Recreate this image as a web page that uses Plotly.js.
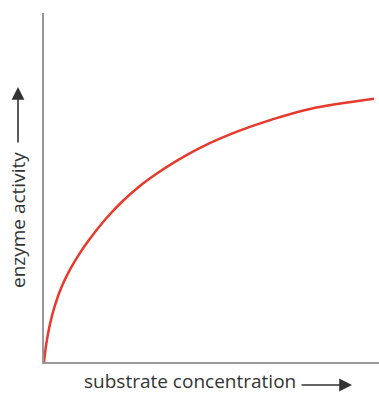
<!DOCTYPE html>
<html>
<head>
<meta charset="utf-8">
<script src="https://cdn.plot.ly/plotly-3.0.1.min.js"></script>
<style>html,body{margin:0;padding:0;background:#fff;}#chart{width:379px;height:395px;}</style>
</head>
<body>
<div id="chart"></div>
<script>
// Substrate concentration (arbitrary units)
const substrate = [0, 0.07, 0.17, 0.32, 0.52, 0.77, 1.07, 1.37, 1.88, 2.36, 2.87, 3.37, 3.97, 4.75, 5.76, 6.75, 7.94, 9.85];
// Enzyme activity (arbitrary units)
const activity  = [0, 0.53, 1.05, 1.60, 2.14, 2.64, 3.12, 3.53, 4.14, 4.62, 5.05, 5.40, 5.77, 6.18, 6.60, 6.93, 7.25, 7.54];
const xLabel = "substrate concentration";
const yLabel = "enzyme activity";

const W = 379, H = 395, L = 44, R = 0, T = 13, B = 33;
const pw = W - L - R, ph = H - T - B;
const px = v => (v - L) / pw;
const py = v => (H - B - v) / ph;

const trace = {
  x: substrate, y: activity, type: 'scatter', mode: 'lines',
  line: {color: '#e53a2c', width: 2.5, shape: 'spline', smoothing: 1},
  hoverinfo: 'skip'
};
const axisBase = {showgrid: false, zeroline: false, showticklabels: false, ticks: '',
  showline: true, linecolor: '#999999', linewidth: 2, fixedrange: true};
const font = {family: 'Open Sans, sans-serif', size: 19, color: '#333333'};
const layout = {
  width: W, height: H,
  margin: {l: L, r: R, t: T, b: B, pad: 0},
  paper_bgcolor: '#fff', plot_bgcolor: '#fff',
  showlegend: false,
  xaxis: Object.assign({range: [0, 10]}, axisBase),
  yaxis: Object.assign({range: [0, 10]}, axisBase),
  annotations: [
    {text: xLabel, xref: 'paper', yref: 'paper', x: px(83), y: py(395), xanchor: 'left', yanchor: 'bottom', borderpad: 0, showarrow: false, font: font},
    {text: '', xref: 'paper', yref: 'paper', x: px(352), y: py(385), ax: -52, ay: 0, showarrow: true, arrowhead: 2, arrowsize: 1.6, arrowwidth: 1.6, arrowcolor: '#333333'},
    {text: yLabel, xref: 'paper', yref: 'paper', x: px(18), y: py(220), textangle: -90, xanchor: 'center', yanchor: 'middle', borderpad: 0, showarrow: false, font: font},
    {text: '', xref: 'paper', yref: 'paper', x: px(18), y: py(87), ax: 0, ay: 57, showarrow: true, arrowhead: 2, arrowsize: 1.6, arrowwidth: 1.6, arrowcolor: '#333333'}
  ]
};
Plotly.newPlot('chart', [trace], layout, {staticPlot: true, displayModeBar: false});
</script>
</body>
</html>
